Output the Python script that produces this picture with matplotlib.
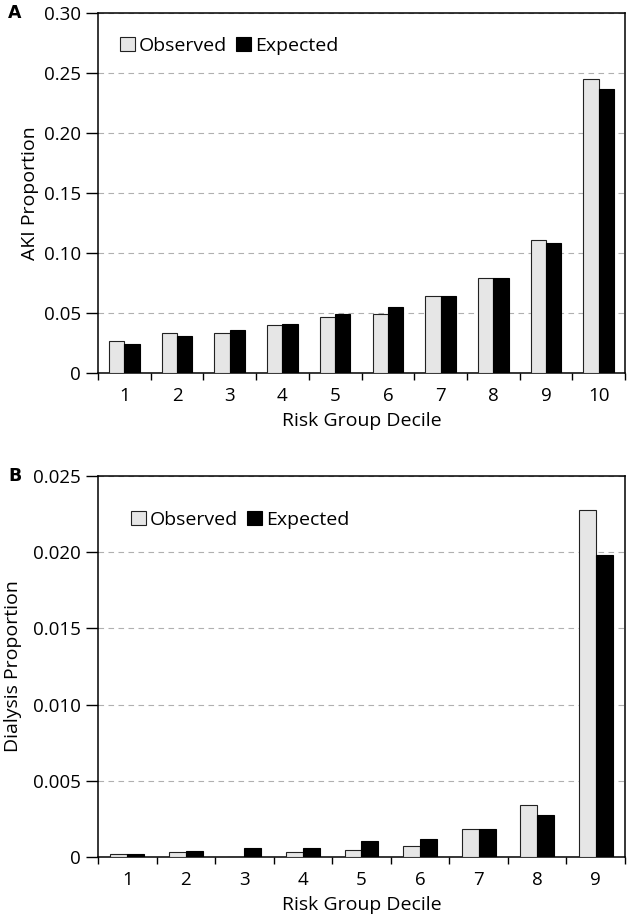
import numpy as np
import matplotlib.pyplot as plt

plt.rcParams['font.family'] = ['Open Sans', 'DejaVu Sans']

# panel A: AKI
aki_deciles = ['1', '2', '3', '4', '5', '6', '7', '8', '9', '10']
aki_observed = [0.027, 0.033, 0.033, 0.040, 0.047, 0.049, 0.064, 0.079, 0.111, 0.245]
aki_expected = [0.024, 0.031, 0.036, 0.041, 0.049, 0.055, 0.064, 0.079, 0.108, 0.237]

# panel B: dialysis
dia_deciles = ['1', '2', '3', '4', '5', '6', '7', '8', '9']
dia_observed = [0.00022, 0.00033, 0.0, 0.00033, 0.00045, 0.00073, 0.00183, 0.00338, 0.0228]
dia_expected = [0.00022, 0.00042, 0.00056, 0.00056, 0.00107, 0.00118, 0.00183, 0.00273, 0.0198]

fig = plt.figure(figsize=(6.28, 9.19), dpi=100)
W, H = 628, 919


def panel(rect, labels, obs, exp, ymax, ystep, yfmt, ylabel, letter, leg_xy, ylab_x, bw):
    l, t, r, b = rect
    ax = fig.add_axes([l / W, 1 - b / H, (r - l) / W, (b - t) / H])
    x = np.arange(len(labels))
    ax.bar(x - bw / 2, obs, bw, color='#e6e6e6', edgecolor='#222222', linewidth=0.8,
           label='Observed', zorder=3)
    ax.bar(x + bw / 2, exp, bw, color='black', edgecolor='black', linewidth=0.8,
           label='Expected', zorder=3)
    ax.set_xlim(-0.5, len(labels) - 0.5)
    ax.set_ylim(0, ymax)
    yt = np.arange(0, ymax + ystep / 2, ystep)
    ax.set_yticks(yt)
    ax.set_yticklabels(['0'] + [yfmt.format(v) for v in yt[1:]])
    ax.yaxis.grid(True, linestyle=(0, (5, 4)), color='#b0b0b0', linewidth=0.8, zorder=0)
    ax.set_xticks(np.arange(-0.5, len(labels)), labels=[''] * (len(labels) + 1))
    ax.set_xticks(x, labels=labels, minor=True)
    ax.tick_params(axis='x', which='minor', length=0, pad=10)
    ax.tick_params(axis='x', which='major', length=5, width=1)
    ax.tick_params(axis='y', length=9, width=1)
    ax.tick_params(which='both', labelsize=13.5)
    for s in ax.spines.values():
        s.set_linewidth(1.1)
    ax.set_xlabel('Risk Group Decile', fontsize=14, labelpad=5)
    ax.set_ylabel(ylabel, fontsize=14)
    ax.yaxis.set_label_coords((ylab_x - l) / (r - l), 0.5)
    ax.legend(loc='upper left', bbox_to_anchor=((leg_xy[0] - l) / (r - l), 1 - (leg_xy[1] - t) / (b - t)),
              ncol=2, frameon=False, fontsize=14, handlelength=0.75, handleheight=0.75,
              handletextpad=0.2, columnspacing=0.5, borderaxespad=0, borderpad=0)
    fig.text(8 / W, 1 - rect[1] / H, letter, fontsize=12.5, fontweight='bold',
             family='DejaVu Sans', va='center')
    return ax


panel((98, 13, 625, 373), aki_deciles, aki_observed, aki_expected, 0.30, 0.05, '{:.2f}',
      'AKI Proportion', 'A', (120, 37), 39, 0.29)
panel((98, 476, 625, 857), dia_deciles, dia_observed, dia_expected, 0.025, 0.005, '{:.3f}',
      'Dialysis Proportion', 'B', (131, 511), 22, 0.29)

fig.savefig('out.png', dpi=100)
